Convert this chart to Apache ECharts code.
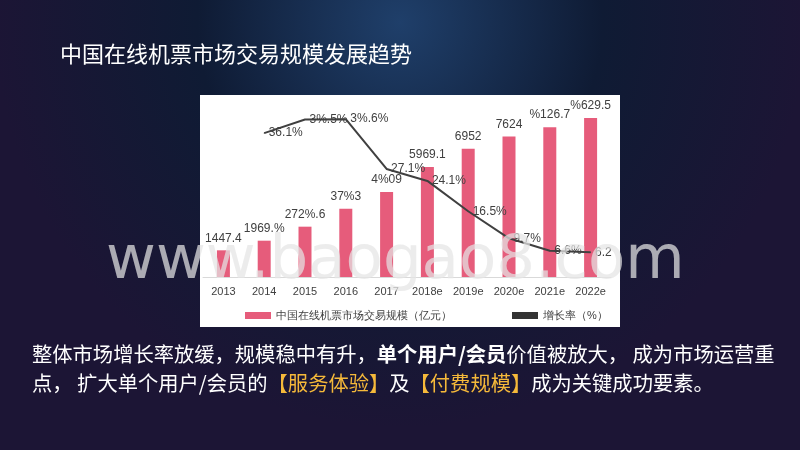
<!DOCTYPE html>
<html><head><meta charset="utf-8">
<script src="https://cdn.jsdelivr.net/npm/echarts@6/dist/echarts.min.js"></script>
<style>html,body{margin:0;padding:0;background:#0b1426}#c{width:800px;height:450px}</style>
</head><body><div id="c"></div>
<script>
const cats=['2013','2014','2015','2016','2017','2018e','2019e','2020e','2021e','2022e'];
const bars=[1447.4,1969.5,2729.6,3703,4609,5969.1,6952,7624,8126.7,8629.5];
const line=[null,36.1,39.5,39.6,27.1,24.1,16.5,9.7,6.6,6.2];
const barLbl=['1447.4','1969.%','272%.6','37%3','4%09','5969.1','6952','7624','%126.7','%629.5'];
const lineLbl=['','36.1%','3%.5%','3%.6%','27.1%','24.1%','16.5%','9.7%','6.6%','6.2'];
const ch=echarts.init(document.getElementById('c'));
const tc='#404040';
const F='"Noto Sans CJK SC"';
ch.setOption({
 backgroundColor:{type:'radial',x:0.5,y:0.05,r:0.9,colorStops:[{offset:0,color:'#1f3f6a'},{offset:0.5,color:'#0f1b34'},{offset:1,color:'#1c1535'}]},
 graphic:[
  {type:'rect',shape:{x:200,y:95,width:420,height:232},style:{fill:'#fff'},z:-1},
  {type:'text',left:60,top:43,style:{text:'中国在线机票市场交易规模发展趋势',fill:'#fff',font:'22px '+F}},
  {type:'text',left:106,top:232,z:100,style:{text:'www.baogao8.com',fill:'rgba(228,228,228,0.72)',font:'61px "DejaVu Sans"'}},
  {type:'text',left:32,top:344,style:{rich:{a:{fill:'#fff',font:'20.3px '+F},b:{fill:'#fff',font:'bold 20.3px '+F}},text:'{a|整体市场增长率放缓，规模稳中有升，}{b|单个用户/会员}{a|价值被放大， 成为市场运营重}'}},
  {type:'text',left:32,top:373,style:{rich:{a:{fill:'#fff',font:'20.3px '+F},y:{fill:'#f5b93a',font:'20.3px '+F}},text:'{a|点， 扩大单个用户/会员的}{y|【服务体验】}{a|及}{y|【付费规模】}{a|成为关键成功要素。}'}}
 ],
 legend:{top:305,left:240,itemGap:60,itemWidth:26,itemHeight:7,textStyle:{color:tc,fontSize:11},
   data:[{name:'中国在线机票市场交易规模（亿元）',icon:'rect'},{name:'增长率（%）',icon:'rect',itemStyle:{color:'#333'}}]},
 grid:{left:203,width:408,top:100,height:177},
 xAxis:{type:'category',data:cats,axisLine:{lineStyle:{color:'#d9d9d9'}},axisTick:{show:false},axisLabel:{color:tc,fontSize:11,interval:0,margin:9}},
 yAxis:[{type:'value',min:0,max:9600,show:false},{type:'value',min:0,max:44.4,show:false}],
 series:[
  {name:'中国在线机票市场交易规模（亿元）',type:'bar',data:bars,barWidth:13,itemStyle:{color:'#e65c7b'},
   label:{show:true,position:'top',distance:6,color:tc,fontSize:12,formatter:p=>barLbl[p.dataIndex]}},
  {name:'增长率（%）',type:'line',yAxisIndex:1,data:line,symbol:'circle',symbolSize:1,showSymbol:true,lineStyle:{color:'#404040',width:2},itemStyle:{color:'#404040'},
   label:{show:true,position:'right',distance:4,color:tc,fontSize:12,formatter:p=>lineLbl[p.dataIndex]}}
 ]
});
</script></body></html>
